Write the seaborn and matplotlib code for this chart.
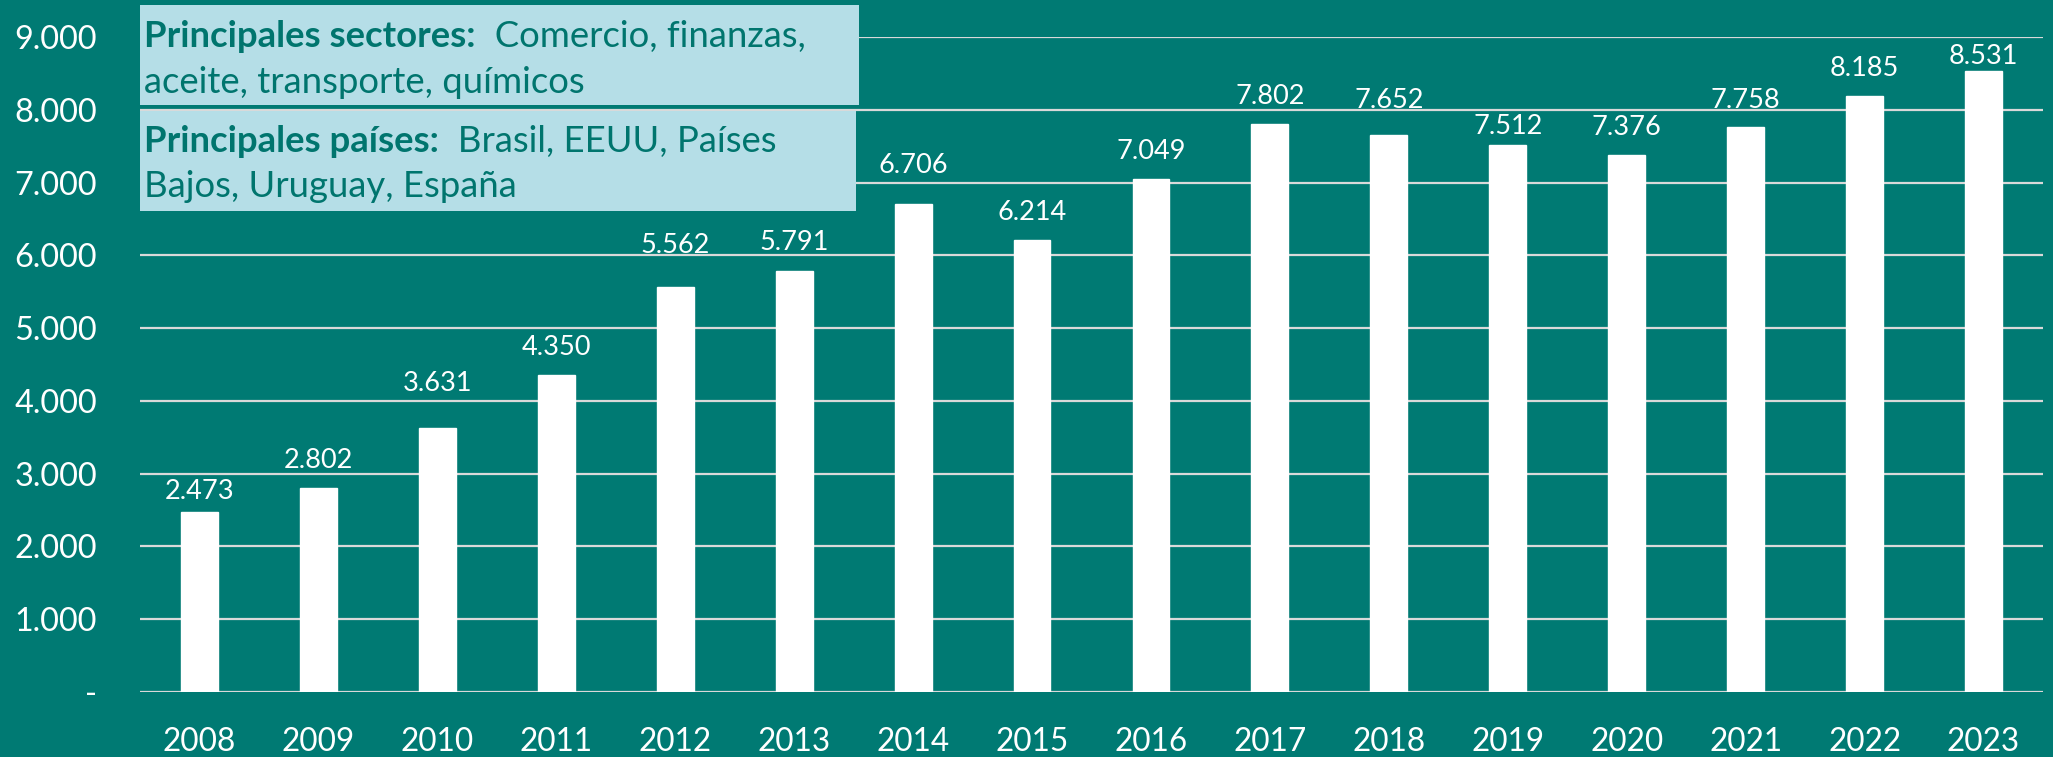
import matplotlib
matplotlib.use("Agg")
import matplotlib.pyplot as plt
import seaborn as sns
import pandas as pd
from matplotlib.patches import Rectangle
from matplotlib.text import Annotation

years = ["2008", "2009", "2010", "2011", "2012", "2013", "2014", "2015",
         "2016", "2017", "2018", "2019", "2020", "2021", "2022", "2023"]
values = [2473, 2802, 3631, 4350, 5562, 5791, 6706, 6214,
          7049, 7802, 7652, 7512, 7376, 7758, 8185, 8531]
y_ticks = [0, 1000, 2000, 3000, 4000, 5000, 6000, 7000, 8000, 9000]
box1_bold = "Principales sectores:"
box1_rest = "  Comercio, finanzas,"
box1_line2 = "aceite, transporte, químicos"
box2_bold = "Principales países:"
box2_rest = "  Brasil, EEUU, Países"
box2_line2 = "Bajos, Uruguay, España"

# layout: gap (px) between bar top and label baseline, as hand-placed in the original
label_gap_px = [12.7, 20.5, 36.6, 20.9, 33.9, 20.6, 30.5, 20.0,
                19.9, 20.6, 27.5, 11.7, 20.1, 19.8, 20.4, 6.9]

BG = "#007A73"
BOXC = "#B5DEE7"
TXT = "#00756E"
GRID = "#D9D9D9"
FONT = "Lato"
BOXFS = 26.3

sns.set_theme(style="white")
plt.rcParams["font.family"] = [FONT, "DejaVu Sans"]

W, H = 2053, 757
fig = plt.figure(figsize=(W / 100, H / 100), dpi=100)
fig.patch.set_facecolor(BG)

ax = fig.add_axes([140 / W, (H - 692) / H, (2043 - 140) / W, (692 - 37) / H])
ax.set_facecolor(BG)

df = pd.DataFrame({"year": years, "value": values})
sns.barplot(data=df, x="year", y="value", color="white", saturation=1,
            width=0.31, ax=ax, zorder=3)

ax.set_xlim(-0.5, len(years) - 0.5)
ax.set_ylim(0, 9000)
ax.set_yticks(y_ticks)
ax.set_yticklabels(["-"] + [f"{v:,}".replace(",", ".") for v in y_ticks[1:]])
ax.yaxis.grid(True, color=GRID, linewidth=1.6, zorder=0)
ax.set_axisbelow(True)
for s in ax.spines.values():
    s.set_visible(False)
ax.set_xlabel("")
ax.set_ylabel("")
ax.tick_params(axis="y", length=0, pad=31, labelsize=23.3, labelcolor="white")
ax.tick_params(axis="x", length=0, pad=25, labelsize=22.7, labelcolor="white")

labels = [f"{v:,}".replace(",", ".") for v in values]
for bar, lbl, gap in zip(ax.containers[0], labels, label_gap_px):
    ax.annotate(lbl, xy=(bar.get_x() + bar.get_width() / 2, bar.get_height()),
                xytext=(0, gap * 0.72), textcoords="offset points",
                ha="center", va="baseline", fontsize=19.5, color="white",
                annotation_clip=False, zorder=5)

# text boxes
def add_box(x0, y0_top, x1, y1_bottom):
    fig.add_artist(Rectangle((x0 / W, (H - y1_bottom) / H), (x1 - x0) / W,
                             (y1_bottom - y0_top) / H, transform=fig.transFigure,
                             facecolor=BOXC, edgecolor="none", zorder=2))

add_box(140, 5, 859, 105)
add_box(140, 111, 856, 211)

def two_part(x, y_base, bold, rest):
    t1 = fig.text(x / W, (H - y_base) / H, bold, fontsize=BOXFS, fontweight="bold",
                  color=TXT, va="baseline", ha="left", zorder=4)
    a = Annotation(rest, xy=(1, 0), xycoords=t1, va="bottom", ha="left",
                   fontsize=BOXFS, color=TXT, zorder=4)
    fig.add_artist(a)

two_part(144, 47, box1_bold, box1_rest)
fig.text(144 / W, (H - 93) / H, box1_line2, fontsize=BOXFS, color=TXT,
         va="baseline", ha="left", zorder=4)
two_part(144, 152, box2_bold, box2_rest)
fig.text(144 / W, (H - 197) / H, box2_line2, fontsize=BOXFS, color=TXT,
         va="baseline", ha="left", zorder=4)

fig.savefig("out.png", dpi=100, facecolor=BG)
